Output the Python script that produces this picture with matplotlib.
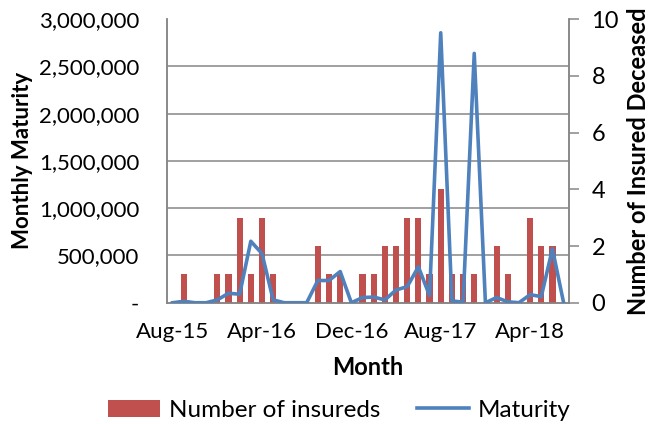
import numpy as np
import matplotlib.pyplot as plt
from matplotlib.ticker import FuncFormatter

plt.rcParams['font.family'] = ['Lato', 'DejaVu Sans']

# 36 months, Aug-15 .. Jul-18
months = ['Aug-15', 'Sep-15', 'Oct-15', 'Nov-15', 'Dec-15', 'Jan-16', 'Feb-16', 'Mar-16',
          'Apr-16', 'May-16', 'Jun-16', 'Jul-16', 'Aug-16', 'Sep-16', 'Oct-16', 'Nov-16',
          'Dec-16', 'Jan-17', 'Feb-17', 'Mar-17', 'Apr-17', 'May-17', 'Jun-17', 'Jul-17',
          'Aug-17', 'Sep-17', 'Oct-17', 'Nov-17', 'Dec-17', 'Jan-18', 'Feb-18', 'Mar-18',
          'Apr-18', 'May-18', 'Jun-18', 'Jul-18']
insureds = [0, 1, 0, 0, 1, 1, 3, 1, 3, 1, 0, 0, 0, 2, 1, 1, 0, 1, 1, 2, 2, 3, 3, 1,
            4, 1, 1, 1, 0, 2, 1, 0, 3, 2, 2, 0]
maturity = [0, 15000, 0, 0, 30000, 100000, 90000, 650000, 520000, 30000, 0, 0,
            0, 235000, 235000, 330000, 0, 55000, 60000, 30000, 135000, 170000, 380000, 75000,
            2855000, 20000, 5000, 2637000, 0, 55000, 10000, 0, 85000, 65000, 570000, 0]
tick_labels = ['Aug-15', 'Apr-16', 'Dec-16', 'Aug-17', 'Apr-18']

bar_color = '#C0504D'
line_color = '#4F81BD'
grey = '#868686'

x = np.arange(len(months))

fig = plt.figure(figsize=(6.55, 4.24), dpi=100)
ax = fig.add_axes([0.255, 0.286, 0.614, 0.669])
ax2 = ax.twinx()
ax.set_zorder(ax2.get_zorder() + 1)
ax.patch.set_visible(False)

# bars on right axis, grid drawn there so it stays behind the bars
ax2.bar(x, insureds, width=0.55, color=bar_color, label='Number of insureds', zorder=3)
ax2.set_ylim(0, 10)
ax2.set_yticks([0, 2, 4, 6, 8, 10])
ax2.set_yticks(np.linspace(0, 10, 7), minor=True)
ax2.grid(which='minor', axis='y', color=grey, linewidth=1.1)
ax2.set_axisbelow(True)
ax2.tick_params(axis='y', which='major', direction='out', length=7, width=1.1,
                color=grey, labelsize=17, pad=9)
ax2.tick_params(axis='y', which='minor', length=0)
ax2.set_ylabel('Number of Insured Deceased', fontsize=17, fontweight='bold', labelpad=6)

# maturity line on left axis
ax.plot(x, maturity, color=line_color, linewidth=2.6, label='Maturity', zorder=4)
ax.set_ylim(0, 3000000)
ax.set_yticks(np.arange(0, 3000001, 500000))
ax.yaxis.set_major_formatter(FuncFormatter(lambda v, p: '-' if v == 0 else f'{int(v):,}'))
ax.tick_params(axis='y', length=0, labelsize=16, pad=20)
ax.set_ylabel('Monthly Maturity', fontsize=16, fontweight='bold', labelpad=4)

ax.set_xlim(-0.5, len(months) - 0.5)
ax.set_xticks(x[::8])
ax.set_xticklabels(tick_labels)
ax.tick_params(axis='x', length=0, labelsize=16, pad=14)
ax.set_xlabel('Month', fontsize=17, fontweight='bold', labelpad=10)

for a in (ax, ax2):
    a.spines['top'].set_visible(False)
    for s in ('left', 'right', 'bottom'):
        a.spines[s].set_color(grey)
        a.spines[s].set_linewidth(1.1)

h1, l1 = ax2.get_legend_handles_labels()
h2, l2 = ax.get_legend_handles_labels()
fig.legend(h1 + h2, l1 + l2, loc='center', bbox_to_anchor=(0.518, 0.033), ncol=2,
           frameon=False, fontsize=17.5, handlelength=2.15, handleheight=0.7,
           columnspacing=1.5, handletextpad=0.35)

fig.savefig('out.png', dpi=100)
